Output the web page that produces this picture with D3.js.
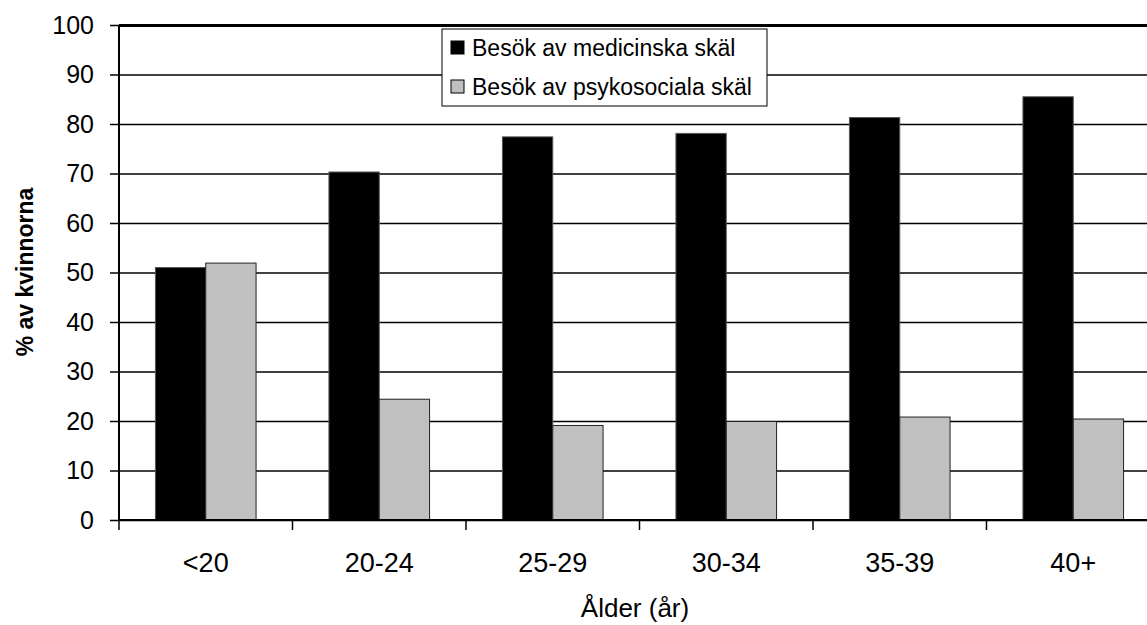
<!DOCTYPE html>
<html>
<head>
<meta charset="utf-8">
<script src="https://cdn.jsdelivr.net/npm/d3@7"></script>
<style>
  html, body { margin: 0; padding: 0; background: #fff; }
  svg { display: block; font-family: "Liberation Sans", Arial, sans-serif; }
</style>
</head>
<body>
<svg id="chart" width="1147" height="625"></svg>
<script>
// Age groups and share of women (%) per visit reason
const categories = ["<20", "20-24", "25-29", "30-34", "35-39", "40+"];
const seriesNames = ["Besök av medicinska skäl", "Besök av psykosociala skäl"];
const medicinska = [51, 70.3, 77.4, 78.1, 81.3, 85.5];
const psykosociala = [51.9, 24.4, 19.1, 19.9, 20.8, 20.4];
const yTicks = [0, 10, 20, 30, 40, 50, 60, 70, 80, 90, 100];
const seriesColors = ["#000000", "#c0c0c0"];

const rows = categories.map((c, i) => ({ cat: c, values: [medicinska[i], psykosociala[i]] }));

const svg = d3.select("#chart");
const plotLeft = 119, plotRight = 1160, plotTop = 25, plotBottom = 520;
const FONT = "Liberation Sans, Arial, sans-serif";

const x = d3.scaleBand().domain(categories).range([plotLeft, plotRight]).padding(0);
const x1 = d3.scaleBand().domain(d3.range(seriesNames.length))
  .range([x.bandwidth() * 0.21, x.bandwidth() * 0.79]).padding(0);
const y = d3.scaleLinear().domain([0, 100]).range([plotBottom, plotTop]);

// horizontal gridlines
const grid = svg.append("g").attr("transform", `translate(${plotLeft},0)`)
  .call(d3.axisLeft(y).tickValues(yTicks).tickSize(-(plotRight - plotLeft)).tickFormat(""));
grid.select(".domain").remove();
grid.selectAll(".tick line").attr("stroke", "#000").attr("stroke-width", 1.5);
grid.selectAll(".tick").filter(d => d === 100).select("line").attr("stroke-width", 3);

// bars
const groups = svg.append("g").selectAll("g").data(rows).join("g")
  .attr("transform", d => `translate(${x(d.cat)},0)`);
groups.selectAll("rect").data(d => d.values.map((v, i) => ({ v, i }))).join("rect")
  .attr("x", d => x1(d.i))
  .attr("width", x1.bandwidth())
  .attr("y", d => y(d.v))
  .attr("height", d => y(0) - y(d.v))
  .attr("fill", d => seriesColors[d.i])
  .attr("stroke", d => d.i === 0 ? "#555" : "#222")
  .attr("stroke-width", 1);

// y axis
const yAxis = svg.append("g").attr("transform", `translate(${plotLeft},0)`)
  .call(d3.axisLeft(y).tickValues(yTicks).tickSize(9).tickPadding(16));
yAxis.select(".domain").attr("stroke", "#000").attr("stroke-width", 2)
  .attr("d", `M0,${plotTop}V${plotBottom}`);
yAxis.selectAll(".tick line").attr("stroke", "#000").attr("stroke-width", 1.5);
yAxis.selectAll(".tick text").attr("font-size", 25).attr("fill", "#000")
  .attr("font-family", FONT);

// x axis baseline and category boundary ticks
svg.append("line").attr("x1", plotLeft).attr("x2", plotRight).attr("y1", plotBottom).attr("y2", plotBottom)
  .attr("stroke", "#000").attr("stroke-width", 2);
svg.append("g").selectAll("line").data(categories).join("line")
  .attr("x1", d => x(d)).attr("x2", d => x(d))
  .attr("y1", plotBottom).attr("y2", plotBottom + 10)
  .attr("stroke", "#000").attr("stroke-width", 1.5);

const xAxis = svg.append("g").attr("transform", `translate(0,${plotBottom})`)
  .call(d3.axisBottom(x).tickSize(0).tickPadding(0));
xAxis.select(".domain").remove();
xAxis.selectAll(".tick text").attr("font-size", 27).attr("fill", "#000")
  .attr("font-family", FONT).attr("dy", null).attr("y", 52);

// axis titles
svg.append("text").attr("x", 635).attr("y", 617).attr("text-anchor", "middle")
  .attr("font-size", 26).attr("font-family", FONT).text("Ålder (år)");
svg.append("text").attr("transform", "translate(33,272) rotate(-90)")
  .attr("text-anchor", "middle").attr("font-size", 23).attr("font-weight", "bold")
  .attr("font-family", FONT).text("% av kvinnorna");

// legend
const legend = svg.append("g").attr("transform", "translate(442,29)");
legend.append("rect").attr("width", 325).attr("height", 77)
  .attr("fill", "#fff").attr("stroke", "#000").attr("stroke-width", 1);
seriesNames.forEach((name, i) => {
  const g = legend.append("g").attr("transform", `translate(9,${19 + i * 39})`);
  g.append("rect").attr("x", 0).attr("y", -7).attr("width", 13).attr("height", 13)
    .attr("fill", seriesColors[i]).attr("stroke", "#000").attr("stroke-width", 1);
  g.append("text").attr("x", 21).attr("y", 0).attr("dy", "0.35em")
    .attr("font-size", 23).attr("font-family", FONT).text(name);
});
</script>
</body>
</html>
